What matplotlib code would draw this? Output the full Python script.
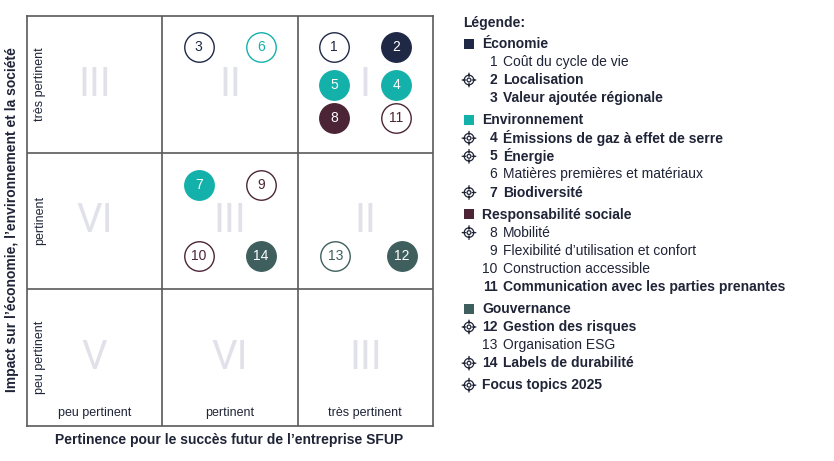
import matplotlib
matplotlib.use("Agg")
import matplotlib.pyplot as plt
from matplotlib.path import Path
import numpy as np

plt.rcParams['font.family'] = ['Liberation Sans', 'DejaVu Sans']

# ---------------- data ----------------
col_labels = ["peu pertinent", "pertinent", "très pertinent"]
row_labels = ["peu pertinent", "pertinent", "très pertinent"]
# roman numerals, rows from bottom (peu) to top (très)
roman = [["V", "VI", "III"],
         ["VI", "III", "II"],
         ["III", "II", "I"]]

issue_ids = [1, 2, 3, 4, 5, 6, 7, 8, 9, 10, 11, 12, 13, 14]
issue_x = [2.27, 2.73, 1.27, 2.73, 2.27, 1.73, 1.27, 2.27, 1.73, 1.27, 2.73, 2.77, 2.28, 1.73]
issue_y = [2.77, 2.77, 2.77, 2.495, 2.495, 2.77, 1.763, 2.25, 1.763, 1.243, 2.25, 1.243, 1.243, 1.243]
issue_cat = [0, 0, 0, 1, 1, 1, 1, 2, 2, 2, 2, 3, 3, 3]
issue_filled = [False, True, False, True, True, False, True, True, False, False, False, True, False, True]

cat_names = ["Économie", "Environnement", "Responsabilité sociale", "Gouvernance"]
cat_colors = ["#1f2946", "#14b1ab", "#4b2536", "#3f5f5e"]

item_labels = ["Coût du cycle de vie", "Localisation", "Valeur ajoutée régionale",
               "Émissions de gaz à effet de serre", "Énergie", "Matières premières et matériaux",
               "Biodiversité", "Mobilité", "Flexibilité d’utilisation et confort",
               "Construction accessible", "Communication avec les parties prenantes",
               "Gestion des risques", "Organisation ESG", "Labels de durabilité"]
item_bold = [False, True, True, True, True, False, True, False, False, False, True, True, False, True]
item_focus = [False, True, False, True, True, False, True, True, False, False, False, True, False, True]

legend_title = "Légende:"
focus_label = "Focus topics 2025"
xlabel = "Pertinence pour le succès futur de l’entreprise SFUP"
ylabel = "Impact sur l’économie, l’environnement et la société"

# ---------------- figure ----------------
W, H = 834, 461
fig = plt.figure(figsize=(W / 100, H / 100), dpi=100)
ax = fig.add_axes([26.7 / W, 1 - 425.7 / H, (433 - 26.7) / W, (425.7 - 16) / H])
ax.set_xlim(0, 3)
ax.set_ylim(0, 3)
ax.set_xticks([])
ax.set_yticks([])
grid_color = "#5a5a5a"
for s in ax.spines.values():
    s.set_color(grid_color)
    s.set_linewidth(1.2)
for v in (1, 2):
    ax.axvline(v, color=grid_color, lw=1.2)
    ax.axhline(v, color=grid_color, lw=1.2)

text_dark = "#1f2437"

for r in range(3):
    for c in range(3):
        ax.text(c + 0.5, r + 0.5, roman[r][c], ha="center", va="center",
                fontsize=29, color="#e1e1e9", family=["Roboto", "DejaVu Sans"],
                fontweight="normal", zorder=1)

for c, lab in enumerate(col_labels):
    ax.text(c + 0.5, 0.092, lab, ha="center", va="center", fontsize=9, color=text_dark)
for r, lab in enumerate(row_labels):
    ax.text(0.1, r + 0.5, lab, ha="center", va="center", fontsize=9, color=text_dark,
            rotation=90)

for i, x, y, cat, filled in zip(issue_ids, issue_x, issue_y, issue_cat, issue_filled):
    col = cat_colors[cat]
    ax.scatter([x], [y], s=450, facecolor=col if filled else "white",
               edgecolor=col, linewidth=1.0, zorder=3)
    ax.text(x, y, str(i), ha="center", va="center", fontsize=10,
            color="white" if filled else col, zorder=4)

fig.text(229 / W, 1 - 440 / H, xlabel, ha="center", va="center",
         fontsize=10, fontweight="bold", color=text_dark)
fig.text(12 / W, 1 - 220 / H, ylabel, ha="center", va="center", rotation=90,
         fontsize=10, fontweight="bold", color=text_dark)

# focus icon marker
def focus_marker():
    ring = Path.circle((0, 0), 0.75)
    inner = Path.circle((0, 0), 0.3)
    ticks = Path([(0, 0.45), (0, 1.15), (0, -0.45), (0, -1.15),
                  (0.45, 0), (1.15, 0), (-0.45, 0), (-1.15, 0)],
                 [Path.MOVETO, Path.LINETO] * 4)
    return Path.make_compound_path(ring, inner, ticks)

fm = focus_marker()
lg = fig.add_axes([0, 0, 1, 1], facecolor="none")
lg.set_xlim(0, W)
lg.set_ylim(H, 0)
lg.axis("off")

def icon(y):
    lg.scatter([469], [y], marker=fm, s=110, facecolor="none", edgecolor=text_dark,
               linewidth=0.9)

lg.text(463, 22.5, legend_title, ha="left", va="center", fontsize=10,
        fontweight="bold", color=text_dark)

y = 43.8
step = 18.1
gap = 22
for ci, name in enumerate(cat_names):
    lg.scatter([469.5], [y], marker="s", s=55, color=cat_colors[ci], linewidth=0)
    lg.text(482, y, name, ha="left", va="center", fontsize=10, fontweight="bold",
            color=text_dark)
    idxs = [k for k in range(len(issue_ids)) if issue_cat[k] == ci]
    for k in idxs:
        y += step
        w = "bold" if item_bold[k] else "normal"
        lg.text(497.5, y, str(issue_ids[k]), ha="right", va="center", fontsize=10,
                fontweight=w, color=text_dark)
        lg.text(503, y, item_labels[k], ha="left", va="center", fontsize=10,
                fontweight=w, color=text_dark)
        if item_focus[k]:
            icon(y)
    y += gap
icon(y)
lg.text(482, y, focus_label, ha="left", va="center", fontsize=10, fontweight="bold",
        color=text_dark)

fig.savefig("out.png", dpi=100)
